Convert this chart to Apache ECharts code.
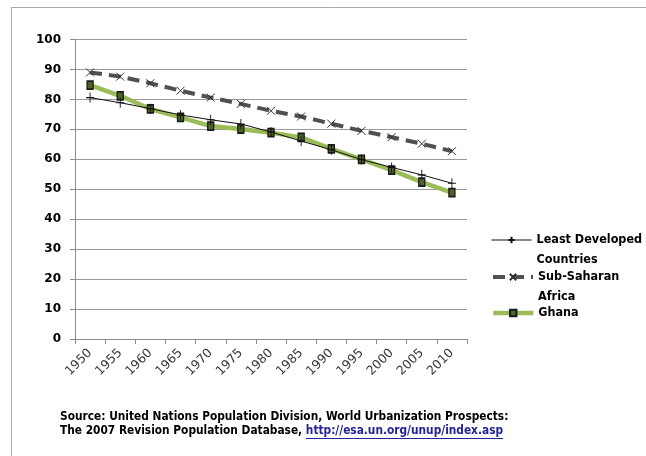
<!DOCTYPE html>
<html>
<head>
<meta charset="utf-8">
<script src="https://cdn.jsdelivr.net/npm/echarts@6/dist/echarts.min.js"></script>
<style>
  html, body { margin: 0; padding: 0; background: #ffffff; }
  #chart { width: 646px; height: 456px; }
</style>
</head>
<body>
<div id="chart"></div>
<script>
// Share of population living in rural areas (%), 1950-2010
const years = ['1950', '1955', '1960', '1965', '1970', '1975', '1980', '1985', '1990', '1995', '2000', '2005', '2010'];
const leastDeveloped = [80.6, 78.9, 76.9, 74.8, 73.2, 71.8, 69.1, 66.1, 63.2, 59.9, 57.3, 54.8, 52.0];
const subSaharan = [89.0, 87.6, 85.4, 82.9, 80.6, 78.5, 76.2, 74.3, 71.9, 69.5, 67.4, 65.2, 62.7];
const ghana = [84.8, 81.2, 76.8, 74.0, 71.1, 70.1, 68.9, 67.3, 63.5, 60.0, 56.4, 52.4, 48.9];
const yTicks = [0, 10, 20, 30, 40, 50, 60, 70, 80, 90, 100];

const seriesNames = ['Least Developed Countries', 'Sub-Saharan Africa', 'Ghana'];
const legendLabels = ['\nLeast Developed\nCountries', '\nSub-Saharan\nAfrica', 'Ghana'];
const sourceLine1 = 'Source: United Nations Population Division, World Urbanization Prospects:';
const sourceLine2 = 'The 2007 Revision Population Database, ';
const sourceLink = 'http://esa.un.org/unup/index.asp';

const boldFont = '"DejaVu Sans Condensed", "Liberation Sans Narrow", "DejaVu Sans", sans-serif';
const sourceFontSize = 11.8;

// measure the text before the link so the underline sits under the link only
function textWidth(str, size) {
  const ctx = document.createElement('canvas').getContext('2d');
  ctx.font = 'bold ' + size + 'px ' + boldFont;
  return ctx.measureText(str).width;
}
const srcX = 60;
const linkX = srcX + textWidth(sourceLine2, sourceFontSize);
const linkW = textWidth(sourceLink, sourceFontSize);

const chart = echarts.init(document.getElementById('chart'), null, { renderer: 'canvas' });

const legendLineWidths = [1, 4, 4.5];

function legendAt(i, top) {
  return {
    data: [seriesNames[i]],
    orient: 'vertical',
    left: 491,
    top: top,
    padding: 0,
    itemWidth: 40,
    itemHeight: 8,
    selectedMode: false,
    lineStyle: { width: legendLineWidths[i] },
    formatter: function () { return legendLabels[i]; },
    textStyle: {
      fontFamily: boldFont,
      fontWeight: 'bold',
      fontSize: 12.5,
      color: '#000000',
      lineHeight: 20
    }
  };
}

chart.setOption({
  backgroundColor: '#ffffff',
  animation: false,
  grid: { left: 75, right: 179, top: 39.5, bottom: 117, containLabel: false },
  xAxis: {
    type: 'category',
    data: years,
    boundaryGap: true,
    axisLine: { show: true, lineStyle: { color: '#8c8c8c', width: 1 } },
    axisTick: { show: true, interval: 0, length: 5, lineStyle: { color: '#8c8c8c' } },
    axisLabel: {
      interval: 0,
      rotate: 45,
      margin: 12,
      color: '#3a3a3a',
      fontSize: 12.5,
      fontFamily: '"DejaVu Sans", sans-serif'
    },
    splitLine: { show: false }
  },
  yAxis: {
    type: 'value',
    min: yTicks[0],
    max: yTicks[yTicks.length - 1],
    interval: 10,
    axisLine: { show: true, lineStyle: { color: '#8c8c8c', width: 1 } },
    axisTick: { show: true, length: 5, lineStyle: { color: '#8c8c8c' } },
    axisLabel: {
      margin: 14,
      color: '#000000',
      fontWeight: 'bold',
      fontSize: 12,
      fontFamily: '"DejaVu Sans", sans-serif'
    },
    splitLine: { show: true, lineStyle: { color: '#999999', width: 1 } }
  },
  legend: [legendAt(0, 210), legendAt(1, 247), legendAt(2, 303)],
  series: [
    {
      name: seriesNames[0],
      type: 'line',
      data: leastDeveloped,
      symbol: 'path://M5,0L5,10M0,5L10,5',
      symbolSize: [8, 10],
      lineStyle: { color: '#111111', width: 1 },
      itemStyle: { color: '#111111', borderColor: '#111111', borderWidth: 1 },
      z: 3
    },
    {
      name: seriesNames[1],
      type: 'line',
      data: subSaharan,
      symbol: 'path://M0,0L10,10M10,0L0,10',
      symbolSize: 8,
      lineStyle: { color: '#505050', width: 4, type: [12, 7] },
      itemStyle: { color: '#333333', borderColor: '#333333', borderWidth: 1 },
      z: 2
    },
    {
      name: seriesNames[2],
      type: 'line',
      data: ghana,
      symbol: 'rect',
      symbolSize: [6, 8],
      lineStyle: { color: '#9bbb59', width: 4.5 },
      itemStyle: { color: '#4f6228', borderColor: '#1a1a1a', borderWidth: 1.5 },
      z: 2
    }
  ],
  graphic: [
    {
      type: 'polyline',
      silent: true,
      shape: { points: [[11.5, 470], [11.5, 7.5], [660, 7.5]] },
      style: { stroke: '#a8a8a8', lineWidth: 1, fill: null }
    },
    {
      type: 'text',
      left: srcX,
      top: 411,
      style: {
        text: sourceLine1,
        fill: '#000000',
        font: 'bold ' + sourceFontSize + 'px ' + boldFont
      }
    },
    {
      type: 'text',
      left: srcX,
      top: 425,
      style: {
        text: sourceLine2,
        fill: '#000000',
        font: 'bold ' + sourceFontSize + 'px ' + boldFont
      }
    },
    {
      type: 'text',
      left: linkX,
      top: 425,
      style: {
        text: sourceLink,
        fill: '#23239b',
        font: 'bold ' + sourceFontSize + 'px ' + boldFont
      }
    },
    {
      type: 'line',
      silent: true,
      shape: { x1: linkX, y1: 438.5, x2: linkX + linkW, y2: 438.5 },
      style: { stroke: '#23239b', lineWidth: 1 }
    }
  ]
});
</script>
</body>
</html>
